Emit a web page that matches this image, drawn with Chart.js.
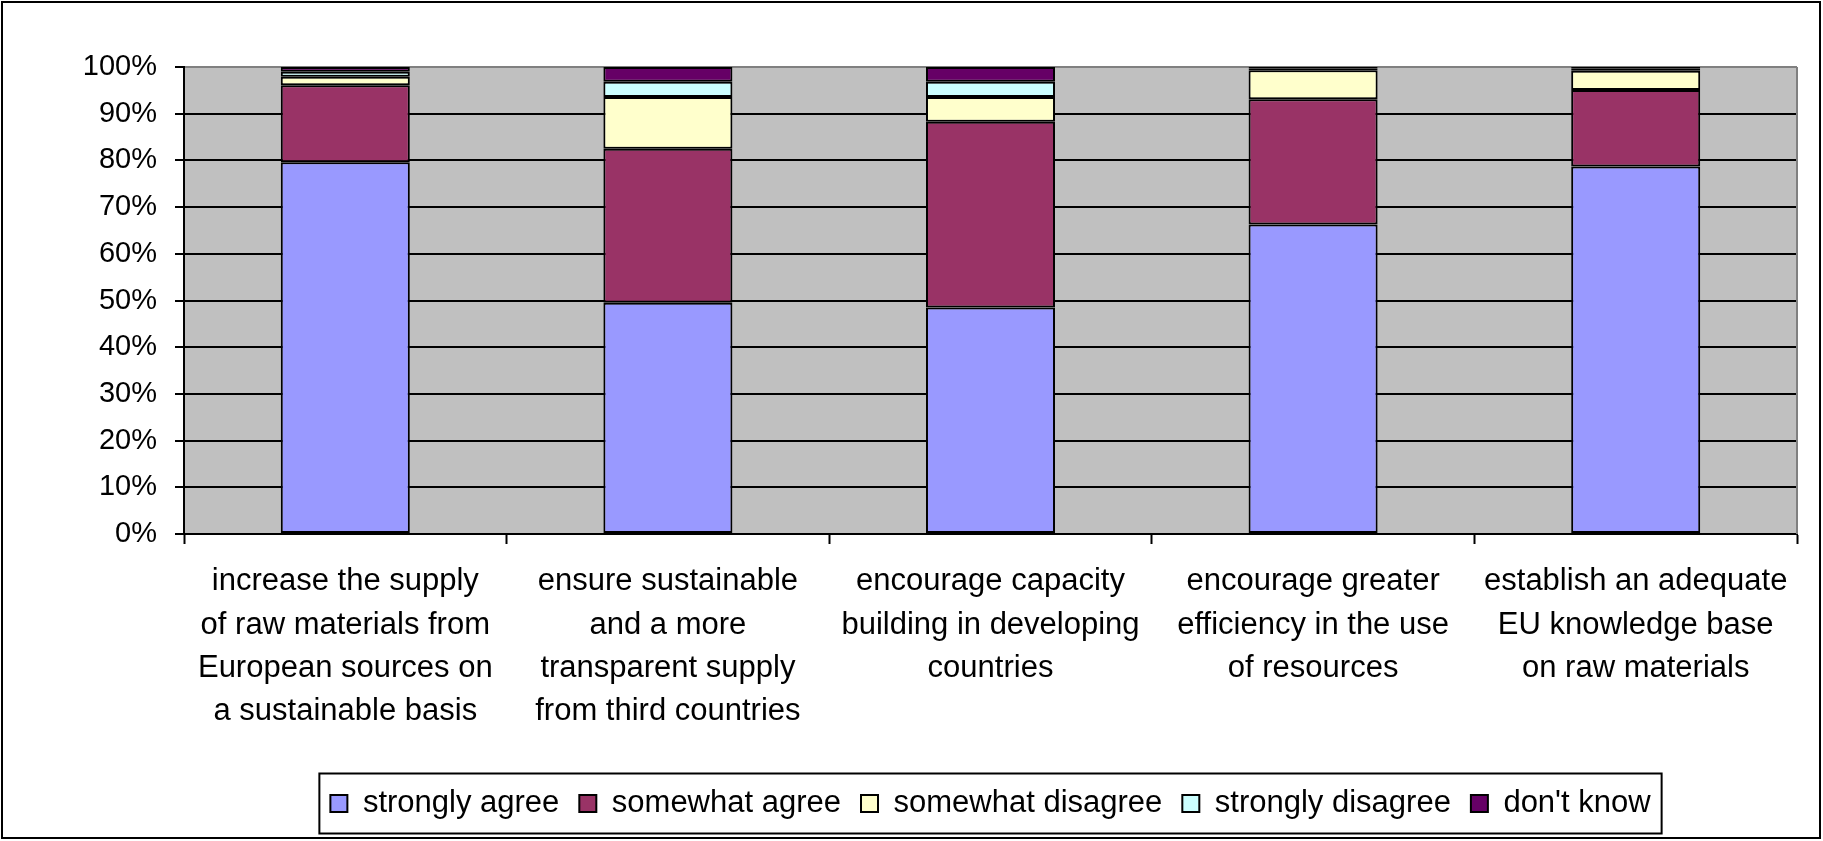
<!DOCTYPE html>
<html>
<head>
<meta charset="utf-8">
<script src="https://cdn.jsdelivr.net/npm/chart.js@4"></script>
<style>
  body { margin: 0; background: #fff; }
  #wrap { width: 1823px; height: 841px; }
</style>
</head>
<body>
<div id="wrap"><canvas id="surveyChart" width="1823" height="841"></canvas></div>
<script>
// categories (one array of lines per bar)
const categories = [
    ["increase the supply", "of raw materials from", "European sources on", "a sustainable basis"],
    ["ensure sustainable", "and a more", "transparent supply", "from third countries"],
    ["encourage capacity", "building in developing", "countries"],
    ["encourage greater", "efficiency in the use", "of resources"],
    ["establish an adequate", "EU knowledge base", "on raw materials"]
];

// shares in %
const stronglyAgree     = [79.6, 49.5, 48.5, 66.3, 78.7];
const somewhatAgree     = [16.5, 33.0, 39.8, 26.8, 16.4];
const somewhatDisagree  = [1.8, 11.1, 5.3, 6.2, 4.1];
const stronglyDisagree  = [1.1, 3.25, 3.25, 0.3, 0.4];
const dontKnow          = [1.0, 3.15, 3.15, 0.4, 0.4];

const yTicks = ["0%", "10%", "20%", "30%", "40%", "50%", "60%", "70%", "80%", "90%", "100%"];

const FONT = '"Liberation Sans", Arial, sans-serif';

// grey plot area, frames round the plot, the legend and the whole chart
const excelLook = {
    id: 'excelLook',
    beforeDraw(chart) {
        const { ctx, chartArea: a } = chart;
        ctx.save();
        ctx.fillStyle = '#ffffff';
        ctx.fillRect(0, 0, chart.width, chart.height);
        ctx.fillStyle = '#C0C0C0';
        ctx.fillRect(a.left, a.top, a.right - a.left, a.bottom - a.top);
        ctx.restore();
    },
    afterDraw(chart) {
        const { ctx, chartArea: a } = chart;
        ctx.save();
        // right edge of plot area
        ctx.strokeStyle = '#808080';
        ctx.lineWidth = 2;
        ctx.beginPath();
        ctx.moveTo(a.right, a.top);
        ctx.lineTo(a.right, a.bottom);
        ctx.stroke();

        // legend frame
        const boxes = chart.legend.legendHitBoxes;
        if (boxes && boxes.length) {
            const left = Math.min(...boxes.map(b => b.left)) - 11;
            const right = Math.max(...boxes.map(b => b.left + b.width)) + 11;
            const mid = boxes[0].top + boxes[0].height / 2;
            ctx.strokeStyle = '#000';
            ctx.lineWidth = 2;
            ctx.strokeRect(left, mid - 30, right - left, 60);
        }

        // chart frame
        ctx.strokeStyle = '#000';
        ctx.lineWidth = 2;
        ctx.strokeRect(2, 2, chart.width - 5, chart.height - 5);
        ctx.restore();
    }
};

const series = [
    { label: 'strongly agree', data: stronglyAgree, color: '#9999FF' },
    { label: 'somewhat agree', data: somewhatAgree, color: '#993366' },
    { label: 'somewhat disagree', data: somewhatDisagree, color: '#FFFFCC' },
    { label: 'strongly disagree', data: stronglyDisagree, color: '#CCFFFF' },
    { label: "don't know", data: dontKnow, color: '#660066' }
];

const ctx = document.getElementById('surveyChart').getContext('2d');
new Chart(ctx, {
    type: 'bar',
    data: {
        labels: categories,
        datasets: series.map(s => ({
            label: s.label,
            data: s.data,
            backgroundColor: s.color,
            borderColor: '#000',
            borderWidth: 2,
            borderSkipped: false,
            categoryPercentage: 1.0,
            barPercentage: 0.4
        }))
    },
    options: {
        responsive: false,
        animation: false,
        devicePixelRatio: 1,
        layout: {
            padding: { top: 67, right: 26, bottom: 12, left: 0 }
        },
        scales: {
            x: {
                stacked: true,
                grid: {
                    offset: true,
                    drawOnChartArea: false,
                    tickLength: 10,
                    tickColor: '#000',
                    tickWidth: 2
                },
                border: { color: '#000', width: 2 },
                ticks: {
                    color: '#000',
                    padding: 16,
                    maxRotation: 0,
                    autoSkip: false,
                    font: { family: FONT, size: 31, lineHeight: 1.4 }
                },
                afterFit: scale => { scale.height = 234; }
            },
            y: {
                stacked: true,
                min: 0,
                max: 100,
                grid: {
                    color: c => (c.tick && c.tick.value === 100) ? '#808080' : '#000',
                    lineWidth: 2,
                    tickLength: 9,
                    tickColor: '#000',
                    tickWidth: 2
                },
                border: { color: '#000', width: 2 },
                ticks: {
                    stepSize: 10,
                    color: '#000',
                    padding: 18,
                    font: { family: FONT, size: 29 },
                    callback: (v, i) => yTicks[i]
                },
                afterFit: scale => { scale.width = 184; }
            }
        },
        plugins: {
            legend: {
                position: 'bottom',
                fullSize: false,
                labels: {
                    color: '#000',
                    boxWidth: 17,
                    boxHeight: 17,
                    padding: 20,
                    font: { family: FONT, size: 31 }
                }
            },
            tooltip: { enabled: false }
        }
    },
    plugins: [excelLook]
});
</script>
</body>
</html>
